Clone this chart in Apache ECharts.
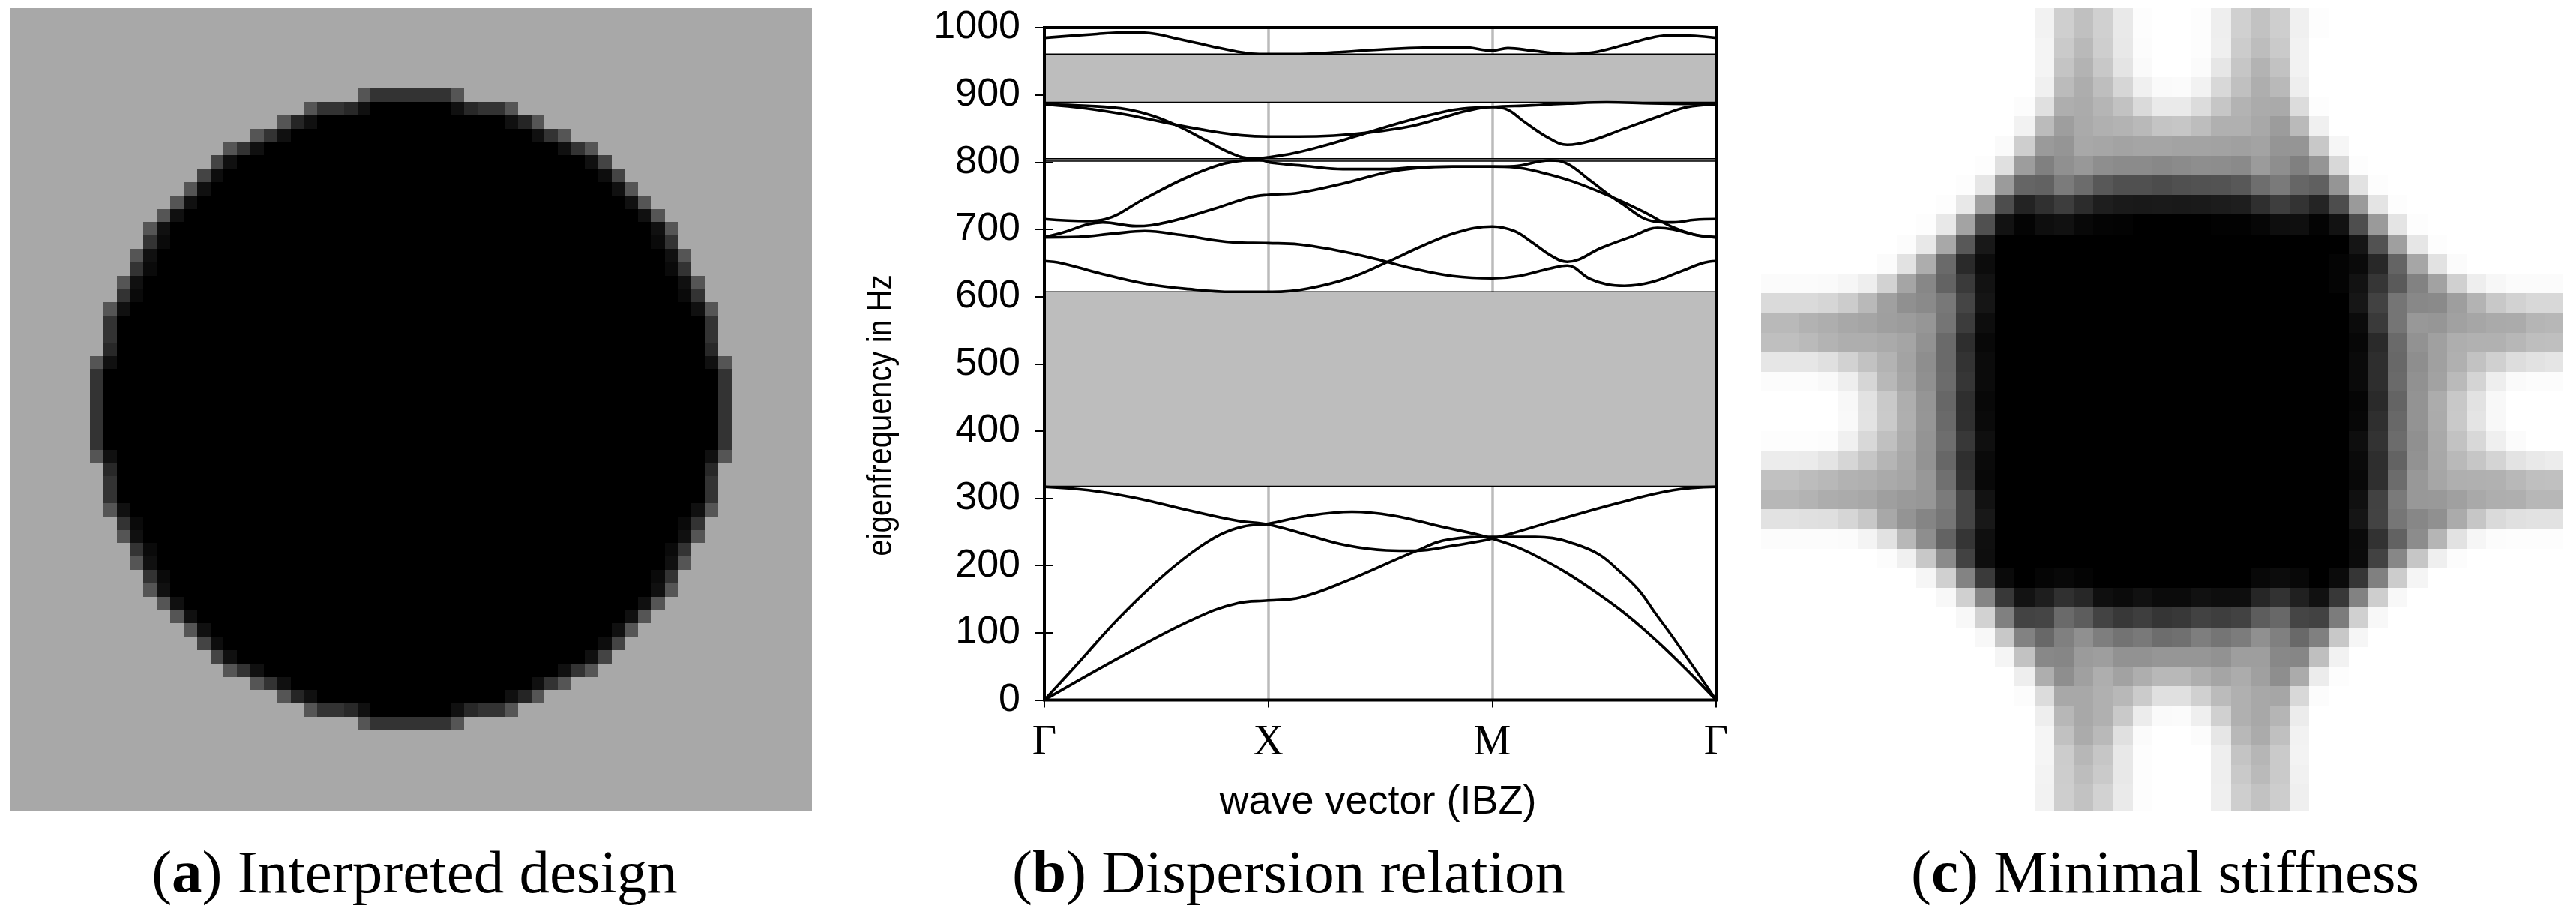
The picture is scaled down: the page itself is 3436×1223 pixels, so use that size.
<!DOCTYPE html>
<html><head><meta charset="utf-8">
<style>html,body{margin:0;padding:0;background:#fff}#c{position:absolute;left:0;top:0;width:3436px;height:1223px}</style>
<script src="https://cdn.jsdelivr.net/npm/echarts@6/dist/echarts.min.js"></script>
</head><body><div id="c"></div>
<script>
// (a) interpreted design: 60 x 60 grey levels, run-length written as hex*count
const designRows = [
"a8*60","a8*60","a8*60","a8*60","a8*60","a8*60",
"a8*26 55 33*6 55 a8*26",
"a8*22 55 33 33 28 10 00*6 10 28 33 33 55 a8*22",
"a8*20 55 25 10 00*14 10 25 55 a8*20",
"a8*18 55 33 10 00*18 10 33 55 a8*18",
"a8*16 55 33 10 00*22 10 33 55 a8*16",
"a8*15 44 10 00*26 10 44 a8*15",
"a8*14 44 0d 00*28 0d 44 a8*14",
"a8*13 55 10 00*30 10 55 a8*13",
"a8*12 55 10 00*32 10 55 a8*12",
"a8*11 55 10 00*34 10 55 a8*11",
"a8*10 55 10 00*36 10 55 a8*10",
"a8*10 33 0a 00*36 0a 33 a8*10",
"a8*9 55 10 00*38 10 55 a8*9",
"a8*9 33 0a 00*38 0a 33 a8*9",
"a8*8 55 10 00*40 10 55 a8*8",
"a8*8 33 0a 00*40 0a 33 a8*8",
"a8*7 55 10 00*42 10 55 a8*7",
"a8*7 33 00*44 33 a8*7",
"a8*7 33 00*44 33 a8*7",
"a8*7 28 00*44 28 a8*7",
"a8*6 55 10 00*44 10 55 a8*6",
"a8*6 33 00*46 33 a8*6",
"a8*6 33 00*46 33 a8*6",
"a8*6 33 00*46 33 a8*6",
"a8*6 33 00*46 33 a8*6",
"a8*6 33 00*46 33 a8*6",
"a8*6 33 00*46 33 a8*6",
"a8*6 55 10 00*44 10 55 a8*6",
"a8*7 28 00*44 28 a8*7",
"a8*7 33 00*44 33 a8*7",
"a8*7 33 00*44 33 a8*7",
"a8*7 55 10 00*42 10 55 a8*7",
"a8*8 33 0a 00*40 0a 33 a8*8",
"a8*8 55 10 00*40 10 55 a8*8",
"a8*9 33 0a 00*38 0a 33 a8*9",
"a8*9 55 10 00*38 10 55 a8*9",
"a8*10 33 0a 00*36 0a 33 a8*10",
"a8*10 55 10 00*36 10 55 a8*10",
"a8*11 55 10 00*34 10 55 a8*11",
"a8*12 55 10 00*32 10 55 a8*12",
"a8*13 55 10 00*30 10 55 a8*13",
"a8*14 44 0d 00*28 0d 44 a8*14",
"a8*15 44 10 00*26 10 44 a8*15",
"a8*16 55 33 10 00*22 10 33 55 a8*16",
"a8*18 55 33 10 00*18 10 33 55 a8*18",
"a8*20 55 25 10 00*14 10 25 55 a8*20",
"a8*22 55 33 33 28 10 00*6 10 28 33 33 55 a8*22",
"a8*26 55 33*6 55 a8*26",
"a8*60","a8*60","a8*60","a8*60","a8*60","a8*60"
];
// (c) minimal stiffness: 41 columns, grey levels read row by row
const stiffnessRows = [
"ff*14 f2 cf c0 d0 e9 fd ff ff fd ee d0 c2 ce f0 fd ff*12",
"ff*14 f2 cf c0 d0 e9 fd ff ff fd ee d0 c2 ce f0 fd ff*12",
"ff*14 f4 ca b9 ce e8 fc ff ff fd ef cc bd ca f2 ff ff*12",
"ff*14 f4 c4 b3 c8 e4 fa ff ff fb e6 c6 b3 c2 f2 ff ff*12",
"ff*14 f0 bb ad be d6 f0 fa fb f2 d8 c0 ae b9 ee ff ff*12",
"ff*13 fc e0 ae ab b5 c2 da ea ea dc c6 b3 ab aa dc fd ff*12",
"ff*13 f2 bb 9e aa b0 b3 b9 c4 c6 bd b0 b0 a8 9c ba f0 ff*12",
"ff*12 fa ce 9a 95 a8 a6 a3 a5 a5 a3 a3 a2 a0 a3 95 95 c8 f6 ff*11",
"ff*11 fd e0 9d 80 90 98 8e 8b 8b 88 8b 8e 8d 8a 9b 8e 80 95 d8 fd ff*10",
"ff*10 fd e6 9b 65 62 7b 6c 58 50 50 4c 50 52 53 58 6e 7a 66 60 95 e2 fd ff*9",
"ff*9 fd e8 9f 4d 23 30 3d 2c 1e 1a 19 1a 19 1a 1c 1e 2f 3e 33 24 4d 9a e4 fd ff*8",
"ff*8 fd e8 a3 50 12 04 0e 11 08 04 03 00 00 00 00 02 02 06 0e 0f 04 12 4e 9a e4 fd ff*7",
"ff*7 fc e8 a8 58 18 00*18 15 52 9f e6 fd ff*6",
"ff*6 fb e2 ad 6a 2a 0c 00*17 04 0a 28 64 a6 e2 fb ff*5",
"fb fb fb fa f6 ee d2 a5 87 63 3a 12 00*17 04 12 36 5a 82 a2 d0 ee f7 fb fb fb",
"da da da d6 cc b9 a0 90 8a 78 45 15 00*18 16 42 75 88 8a 9e b3 c8 d2 d8 d8",
"b9 b9 b2 ae a8 a5 9f 9c 96 75 3c 0d 00*18 0b 3a 75 98 96 a1 a6 aa ab b5 b7",
"bf bf ba b3 ae ae aa a5 92 6a 2e 08 00*18 07 2a 6a 92 a0 ae b1 b1 b7 be bf",
"e6 e6 e6 e0 d2 c2 b3 a3 8e 6a 33 0b 00*18 0a 2e 68 8e a0 b0 c2 d0 dd e2 e5",
"fc fc fc f9 ee d6 b8 a6 90 6c 36 0b 00*18 0a 2e 6a 91 a2 ba d4 ee fa fc fc",
"ff ff ff ff f8 e2 c9 ae 95 67 2f 08 00*18 05 2a 64 93 ac c8 e2 f8 ff ff ff",
"ff ff ff ff f9 e3 ca af 96 6a 30 0a 00*18 07 2f 68 93 ab c9 e4 f8 ff ff ff",
"fd fd fd fc f0 d8 c0 ac 94 6e 38 0f 00*18 0e 33 6c 90 a9 c2 d8 ef fb ff ff",
"ec ec eb e4 d6 c6 b5 a8 93 67 2f 0a 00*18 0a 2e 63 92 a8 b9 c6 d4 e3 e9 ec",
"c1 c1 bc b8 b2 b0 aa a6 98 70 32 08 00*18 08 2f 6c 98 a6 af b0 b1 b8 bf c0",
"b7 b7 b3 ad ab a8 9f 9a 97 7b 45 12 00*18 10 42 7a 98 99 a0 a9 ae af b7 b7",
"e2 e2 e0 df d6 c8 a8 94 85 76 45 18 00*18 15 43 76 87 90 ab c6 da e0 e2 e2",
"fc fc fc fc fb f4 e2 b8 8e 63 35 0f 00*18 0a 32 62 8c b5 e2 f6 fc fd fd fd",
"ff*6 fc f0 c8 8b 42 0e 00*18 0b 42 87 c6 ef fc ff*5",
"ff*8 f6 d0 83 3a 0a 00 05 08 04 00*8 08 0c 08 00 0b 36 80 cc f5 ff*7",
"ff*9 f8 d0 85 38 13 1e 30 27 0f 0b 11 0b 0b 11 0e 0e 26 32 20 11 38 82 ce f8 ff*8",
"ff*10 f8 d2 80 43 45 6a 5d 43 38 3e 35 38 42 3e 42 5d 68 45 42 7c d0 f8 ff*9",
"ff*11 f8 c8 82 68 80 90 7e 73 79 6d 70 7e 75 7c 90 80 69 80 c8 f6 ff*10",
"ff*12 f5 c2 88 86 9b 9e 92 92 96 96 96 92 9e 9e 88 86 bf f2 ff*11",
"ff*13 ee ae 8e a0 ae a2 ae b8 b8 ae a5 ac a0 8e ab ec fd ff*11",
"ff*13 fc dc a8 a8 b0 b8 cb e0 e0 d0 bb b0 a8 a6 d8 fc ff*12",
"ff*14 ee b7 a8 b0 c9 ec fa fb ef d0 b0 a8 b5 ec ff ff*12",
"ff*14 f5 c1 ab b9 e0 fb ff ff fc e6 b8 ab c0 f2 ff ff*12",
"ff*14 f5 cc b7 c6 e8 fd ff ff ff ee c4 b6 ca f3 ff ff*12",
"ff*14 f3 cd bd ca e8 fd ff ff ff ee c9 ba ca f1 ff ff*12",
"ff*14 f2 ce c2 d2 ea fd ff ff ff ef ce c2 cd ef ff ff*12",
"ff*14 f2 ce c2 d2 ea fd ff ff ff ef ce c2 cd ef ff ff*12"
];
// (b) dispersion relation: [wave-vector position, eigenfrequency in Hz]
const xTickLabels = ['Γ','X','M','Γ'];
const gapBands = [[318,607],[801.5,805],[889,960.6]];
const band1 = [[0,0],[.146,53],[.325,119],[.504,177],[.658,219],[.786,246],[.888,258],[1,262],[1.17,273.6],[1.374,280],[1.554,274.5],[1.758,259],[2,240],[2.193,214.7],[2.449,163.7],[2.705,97],[3,0]];
const band2 = [[0,0],[.351,66],[.658,119],[.863,144],[1,148],[1.144,152.6],[1.349,177],[1.656,221],[1.81,239],[2,242.6],[2.193,242.6],[2.27,240.8],[2.347,234.6],[2.475,217],[2.565,192.5],[2.654,163.7],[2.731,128],[2.808,92.8],[3,0]];
const band3 = [[0,317],[.197,312],[.402,301],[.658,281],[.863,266.5],[1,261],[1.17,246],[1.349,230],[1.528,222.6],[1.656,222],[1.835,230],[2,240],[2.27,265.6],[2.552,292],[2.808,312],[3,317]];
const band4 = [[0,652.8],[.075,649.8],[.252,634.2],[.448,619.3],[.645,611.1],[.841,607],[1.018,607],[1.176,611.9],[1.372,628.6],[1.529,650.9],[1.687,675.1],[1.844,695.5],[2,704.1],[2.099,697.4],[2.178,680.7],[2.267,660.2],[2.335,651.7],[2.493,673.2],[2.63,690],[2.738,702.2],[2.807,700],[2.905,691.8],[3,688.1]];
const band5 = [[0,688.1],[.153,688.8],[.311,693.7],[.448,697.4],[.605,691.8],[.841,680.7],[1,679.5],[1.136,677.7],[1.293,669.5],[1.451,658.4],[1.647,641.6],[1.824,630.5],[2,627.1],[2.119,630.5],[2.257,641.6],[2.335,646.1],[2.434,626.8],[2.512,618.2],[2.591,616],[2.709,621.2],[2.846,637.9],[2.945,650.2],[3,652.8]];
const band6 = [[0,688.1],[.094,696.3],[.193,707.4],[.261,710.4],[.409,704.8],[.546,710.4],[.743,729],[.92,747.6],[1,751.3],[1.136,754.3],[1.333,768],[1.529,784.8],[1.667,791.1],[1.824,793.3],[2,793.3],[2.099,792.2],[2.217,784.8],[2.355,771.8],[2.512,751.3],[2.67,727.1],[2.807,703],[2.905,691.8],[3,688.1]];
const band7 = [[0,715.2],[.193,712.3],[.271,714.9],[.448,745.7],[.625,775.5],[.782,795.9],[.881,802.2],[.959,803.4],[1.018,798.9],[1.176,794],[1.333,789.6],[1.529,789.6],[1.647,792.2],[1.824,793.3],[2,793.3],[2.099,794],[2.257,802.6],[2.335,797.8],[2.434,773.6],[2.571,740.1],[2.729,711.5],[2.807,710.4],[2.905,714.1],[3,715.2]];
const band8 = [[0,886],[.193,879.6],[.37,870.3],[.605,854.3],[.743,846.1],[.881,839.8],[1,837.9],[1.136,837.9],[1.293,839.4],[1.451,844],[1.628,852.8],[1.765,864.7],[1.883,875.9],[2,882],[2.07,877.7],[2.139,861],[2.257,835],[2.335,825.7],[2.434,831],[2.591,849.8],[2.748,868.4],[2.866,881.4],[3,886]];
const band9 = [[0,886],[.193,883.7],[.37,878.5],[.488,868.4],[.605,852.4],[.723,832],[.841,812.3],[.93,805.2],[1,807.1],[1.117,813.4],[1.254,824.9],[1.411,840.5],[1.588,858.4],[1.726,870.3],[1.844,878.5],[2,882],[2.178,884.4],[2.335,887],[2.512,889],[2.709,887.4],[3,886]];
const band10 = [[0,984.8],[.212,990],[.37,993],[.468,991.9],[.605,982.6],[.743,972.5],[.881,963.2],[.959,960.6],[1.117,960.6],[1.293,963.2],[1.529,968],[1.726,970.3],[1.873,970.7],[2,965.8],[2.07,969.5],[2.178,965.8],[2.335,960.6],[2.453,963.2],[2.591,974.4],[2.729,986.3],[2.807,988.5],[2.905,987.8],[3,984.8]];
const bands = [band1,band2,band3,band4,band5,band6,band7,band8,band9,band10];

function expand(rows, n){
  return rows.map((r,ri)=>{
    const out=[];
    r.split(' ').forEach(t=>{const [v,c]=t.split('*');for(let i=0;i<(c?+c:1);i++)out.push(parseInt(v,16));});
    if(out.length!==n) throw new Error('row '+ri+' has '+out.length+' cells');
    return out;
  });
}
function cells(rows,n){const d=[];expand(rows,n).forEach((r,y)=>r.forEach((g,x)=>d.push([x,y,g])));return d;}
function renderCell(params, api){
  const p=api.coord([api.value(0),api.value(1)]), q=api.coord([api.value(0)+1,api.value(1)+1]);
  const x=Math.round(p[0]),y=Math.round(p[1]);
  const rect=echarts.graphic.clipRectByRect({x:x,y:y,width:Math.round(q[0])-x,height:Math.round(q[1])-y},params.coordSys);
  const g=api.value(2);
  return rect&&{type:'rect',shape:rect,style:{fill:'rgb('+g+','+g+','+g+')'}};
}
const captionSize=81;
const captionRich={b:{fontFamily:'Liberation Serif',fontSize:captionSize,fontWeight:'bold',color:'#000'}};
function caption(text,x){return {text:text,left:x,top:1123,textAlign:'center',textStyle:{fontFamily:'Liberation Serif',fontSize:captionSize,fontWeight:'normal',color:'#000',rich:captionRich}};}
const sans='Liberation Sans';
const hidden=(min,max,inv)=>({show:false,type:'value',min:min,max:max,inverse:!!inv});
const chart=echarts.init(document.getElementById('c'),null,{renderer:'canvas',width:3436,height:1223});
chart.setOption({
  animation:false,backgroundColor:'#fff',
  title:[caption('({b|a}) Interpreted design',548),caption('({b|b}) Dispersion relation',1714),caption('({b|c}) Minimal stiffness',2883)],
  graphic:[{type:'text',x:1176,y:554,rotation:Math.PI/2,scaleX:0.85,scaleY:1,silent:true,
    style:{text:'eigenfrequency in Hz',fontFamily:sans,fontSize:47,fill:'#000',align:'center',verticalAlign:'middle'}}],
  grid:[
    {left:13,top:11,width:1070,height:1070,outerBoundsMode:'none'},
    {left:1393,top:37,width:896,height:896.5,show:true,z:10,backgroundColor:'transparent',borderColor:'#000',borderWidth:4,outerBoundsMode:'none'},
    {left:2349,top:11,width:1070,height:1070,outerBoundsMode:'none'}
  ],
  xAxis:[
    Object.assign(hidden(0,60),{gridIndex:0}),
    {gridIndex:1,type:'value',min:0,max:3,interval:1,position:'bottom',
      axisLine:{show:false},axisTick:{show:false},
      splitLine:{show:true,lineStyle:{color:'#bbb',width:3.5}},
      axisLabel:{show:true,formatter:v=>xTickLabels[v],fontFamily:'Liberation Serif',fontSize:56,color:'#000',margin:30,showMinLabel:true,showMaxLabel:true},
      name:'wave vector (IBZ)',nameLocation:'middle',nameGap:110,nameTextStyle:{fontFamily:sans,fontSize:54,color:'#000',padding:[0,6,0,0]}},
    {gridIndex:1,type:'value',min:0,max:3,interval:1,position:'top',axisLine:{show:false},axisLabel:{show:false},splitLine:{show:false},
      axisTick:{show:true,inside:true,length:10,lineStyle:{color:'#000',width:2}}},
    Object.assign(hidden(0.084,40.92),{gridIndex:2})
  ],
  yAxis:[
    Object.assign(hidden(0,60,true),{gridIndex:0}),
    {gridIndex:1,type:'value',min:0,max:1000,interval:100,position:'left',
      axisLine:{show:false},splitLine:{show:false},
      axisTick:{show:true,inside:true,length:12,lineStyle:{color:'#000',width:2}},
      axisLabel:{formatter:v=>String(v),fontFamily:sans,fontSize:52,color:'#000',margin:32,showMinLabel:true,showMaxLabel:true}},
    {gridIndex:1,type:'value',min:0,max:1000,interval:100,position:'right',axisLine:{show:false},axisLabel:{show:false},splitLine:{show:false},
      axisTick:{show:true,inside:true,length:12,lineStyle:{color:'#000',width:2}}},
    Object.assign(hidden(0.49,41.33,true),{gridIndex:2})
  ],
  series:[
    {type:'custom',name:'Interpreted design',xAxisIndex:0,yAxisIndex:0,coordinateSystem:'cartesian2d',renderItem:renderCell,data:cells(designRows,60),encode:{x:0,y:1},silent:true,progressive:0},
    {type:'custom',name:'Minimal stiffness',xAxisIndex:3,yAxisIndex:3,coordinateSystem:'cartesian2d',renderItem:renderCell,data:cells(stiffnessRows,41),encode:{x:0,y:1},silent:true,progressive:0}
  ].concat(bands.map((b,i)=>({
    type:'line',name:'band '+(i+1),xAxisIndex:1,yAxisIndex:1,data:b,showSymbol:false,symbol:'none',smooth:0.4,silent:true,
    lineStyle:{color:'#000',width:3.6},
    markArea:i===0?{silent:true,itemStyle:{color:'#bdbdbd',borderColor:'#000',borderWidth:1.5},label:{show:false},
      data:gapBands.map(g=>[{xAxis:0,yAxis:g[1]},{xAxis:3,yAxis:g[0]}])}:undefined
  })))
});
</script></body></html>
